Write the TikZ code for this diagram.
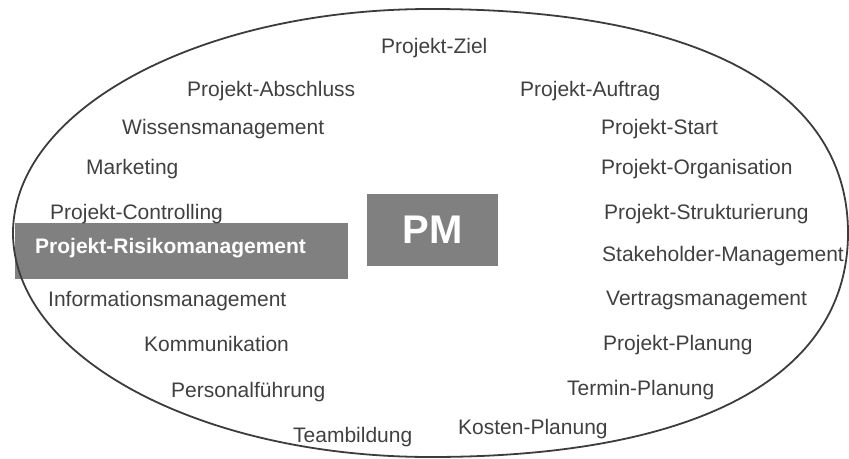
\documentclass[tikz,border=0pt]{standalone}
\usepackage{fontspec}
\setmainfont{Liberation Sans}
\definecolor{txtgray}{HTML}{404040}
\definecolor{linegray}{HTML}{3C3C3C}
\definecolor{boxgray}{HTML}{808080}
\begin{document}
\begin{tikzpicture}[x=1pt,y=-1pt,
  lbl/.style={anchor=base west, inner sep=0pt, text=txtgray, font=\fontsize{21}{25}\selectfont},
  hilite/.style={anchor=base west, inner sep=0pt, text=white, font=\fontsize{21}{25}\selectfont\bfseries},
  greybox/.style={fill=boxgray, draw=none},
  outline/.style={draw=linegray, line width=1.8pt}]
\useasboundingbox (0,0) rectangle (849,458);

% highlighted band behind the risk-management label
\fill[greybox] (15,223) rectangle (348,279);

% central PM block
\node[greybox, minimum width=131pt, minimum height=72pt, inner sep=0pt,
      text=white, font=\fontsize{40}{44}\selectfont\bfseries] (pm) at (432.5,230) {PM};

% surrounding outline: elliptical on the left, slightly fuller on the right
\coordinate (top) at (430.5,9);
\coordinate (right) at (848,233);
\coordinate (bottom) at (430.5,457);
\coordinate (left) at (13,233);
\draw[outline] (top)
  .. controls (697.7,9) and (848,89.6) .. (right)
  .. controls (848,376.4) and (697.7,457) .. (bottom)
  .. controls (199.9,457) and (13,356.7) .. (left)
  .. controls (13,109.3) and (199.9,9) .. (top) -- cycle;

% topics, left column
\node[lbl] (abschluss) at (187,96.5) {Projekt-Abschluss};
\node[lbl] (wissen) at (122,134) {Wissensmanagement};
\node[lbl] (marketing) at (86,174) {Marketing};
\node[lbl] (controlling) at (50,219) {Projekt-Controlling};
\node[hilite] (risiko) at (35,253.5) {Projekt-Risikomanagement};
\node[lbl] (info) at (48,306) {Informationsmanagement};
\node[lbl] (komm) at (144,351.5) {Kommunikation};
\node[lbl] (personal) at (171,397) {Personalführung};
\node[lbl] (team) at (293,442) {Teambildung};

% topics, top and right column
\node[lbl] (ziel) at (381,53) {Projekt-Ziel};
\node[lbl] (auftrag) at (520,96.5) {Projekt-Auftrag};
\node[lbl] (start) at (601,134) {Projekt-Start};
\node[lbl] (orga) at (601,174) {Projekt-Organisation};
\node[lbl] (struktur) at (604,219) {Projekt-Strukturierung};
\node[lbl] (stake) at (602,261) {Stakeholder-Management};
\node[lbl] (vertrag) at (606,305) {Vertragsmanagement};
\node[lbl] (planung) at (603,350) {Projekt-Planung};
\node[lbl] (termin) at (567,395.5) {Termin-Planung};
\node[lbl] (kosten) at (458,434) {Kosten-Planung};
\end{tikzpicture}
\end{document}
